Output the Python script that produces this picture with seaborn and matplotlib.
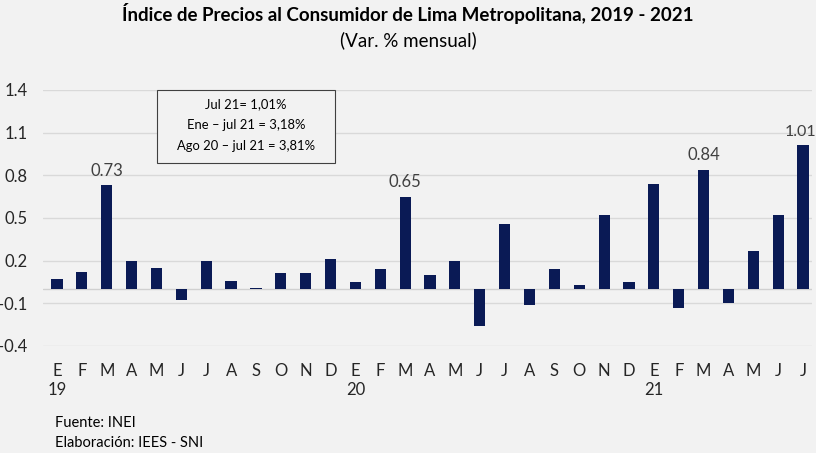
import numpy as np
import pandas as pd
import matplotlib
matplotlib.use("Agg")
import matplotlib.pyplot as plt
import seaborn as sns

months = ["E", "F", "M", "A", "M", "J", "J", "A", "S", "O", "N", "D",
          "E", "F", "M", "A", "M", "J", "J", "A", "S", "O", "N", "D",
          "E", "F", "M", "A", "M", "J", "J"]
years = ["19", "20", "21"]
year_pos = [0, 12, 24]
values = [0.07, 0.12, 0.73, 0.20, 0.15, -0.08, 0.20, 0.06, 0.01, 0.11, 0.11, 0.21,
          0.05, 0.14, 0.65, 0.10, 0.20, -0.26, 0.46, -0.11, 0.14, 0.03, 0.52, 0.05,
          0.74, -0.13, 0.84, -0.10, 0.27, 0.52, 1.01]
labeled = [2, 14, 26, 30]
yticks = [-0.4, -0.1, 0.2, 0.5, 0.8, 1.1, 1.4]
box_lines = ["Jul 21= 1,01%", "Ene \u2013 jul 21 = 3,18%", "Ago 20 \u2013 jul 21 = 3,81%"]

sns.set_theme(style="white")
plt.rcParams["font.family"] = ["Lato", "DejaVu Sans"]

BG = "#f2f2f2"
BAR = "#0a1a55"
TXT = "#262626"

df = pd.DataFrame({"idx": [str(i) for i in range(len(values))], "val": values})

fig = plt.figure(figsize=(8.16, 4.53), dpi=100, facecolor=BG)
W, H = 816, 453
ax = fig.add_axes([43 / W, (H - 346) / H, (812 - 43) / W, (346 - 90) / H])
ax.set_facecolor(BG)

sns.barplot(data=df, x="idx", y="val", color=BAR, saturation=1, width=0.45,
            linewidth=0, edgecolor="none", ax=ax, zorder=3)

ax.set_ylim(-0.4, 1.4)
ax.set_xlim(-0.563, 30.36)
ax.set_yticks(yticks)
ax.set_yticklabels([f"{t:.1f}" for t in yticks], fontsize=12, color=TXT)
ax.yaxis.grid(True, color="#d9d9d9", linewidth=1)
ax.axhline(0, color="#d0d0d0", linewidth=1, zorder=2)
ax.tick_params(axis="y", length=0, pad=11)
ax.tick_params(axis="x", length=0, pad=12)
ax.set_xticks(range(len(months)))
ax.set_xticklabels(months, fontsize=12, color=TXT)
for sp in ax.spines.values():
    sp.set_visible(False)
ax.set_xlabel("")
ax.set_ylabel("")

for yp, yr in zip(year_pos, years):
    xdisp = ax.transData.transform((yp, 0))[0] / W
    fig.text(xdisp, 1 - 390 / H, yr, ha="center", va="center", fontsize=12, color=TXT)

for i in labeled:
    dx = -0.12 if i == len(values) - 1 else 0
    ax.text(i + dx, values[i] + 0.045, f"{values[i]:.2f}", ha="center", va="bottom",
            fontsize=12 if dx == 0 else 11.5, color="#404040", zorder=4)

fig.text(0.5, 1 - 14 / H, "\u00cdndice de Precios al Consumidor de Lima Metropolitana, 2019 - 2021",
         ha="center", va="center", fontsize=13.5, fontweight="bold", color="black")
fig.text(0.5, 1 - 40 / H, "(Var. % mensual)", ha="center", va="center",
         fontsize=13.5, color="black")

# info box
bx0, by0, bx1, by1 = 157, 90, 335, 163
rect = plt.Rectangle((bx0 / W, 1 - by1 / H), (bx1 - bx0) / W, (by1 - by0) / H,
                     transform=fig.transFigure, facecolor=BG, edgecolor="#404040",
                     linewidth=0.8, zorder=5)
fig.patches.append(rect)
for k, line in enumerate(box_lines):
    fig.text((bx0 + bx1) / 2 / W, 1 - (104 + 21 * k) / H, line, ha="center",
             va="center", fontsize=9.4, color="black", zorder=6)

fig.text(55 / W, 1 - 423 / H, "Fuente: INEI", ha="left", va="center", fontsize=10.5, color="black")
fig.text(55 / W, 1 - 443 / H, "Elaboraci\u00f3n: IEES - SNI", ha="left", va="center",
         fontsize=10.5, color="black")

fig.savefig("out.png", dpi=100, facecolor=BG)
